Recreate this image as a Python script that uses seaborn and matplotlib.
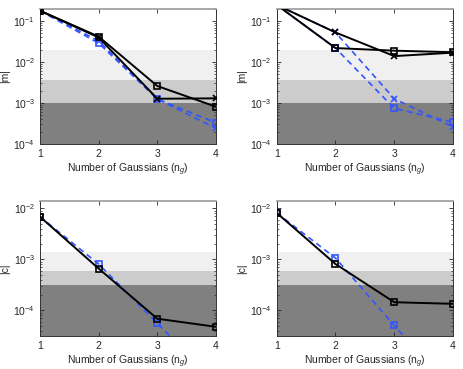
import matplotlib
matplotlib.use("Agg")
import matplotlib.pyplot as plt
import seaborn as sns

ng = [1, 2, 3, 4]

# |m| panels (top row): two solid black series and two dashed blue series
m_left_black_sq = [0.18, 0.042, 0.0026, 0.00081]
m_left_black_x = [0.18, 0.040, 0.00127, 0.0013]
m_left_blue_sq = [0.18, 0.029, 0.00125, 0.00033]
m_left_blue_x = [0.18, 0.033, 0.00125, 0.00024]

m_right_black_sq = [0.25, 0.022, 0.019, 0.0174]
m_right_black_x = [0.25, 0.053, 0.014, 0.017]
m_right_blue_sq = [0.25, 0.022, 0.00074, 0.00034]
m_right_blue_x = [0.25, 0.053, 0.00127, 0.00026]

# |c| panels (bottom row)
c_left_black = [6.8e-3, 6.6e-4, 6.9e-5, 4.8e-5]
c_left_blue = [6.8e-3, 8.1e-4, 5.6e-5, 4e-6]
c_right_black = [8.1e-3, 8.1e-4, 1.45e-4, 1.35e-4]
c_right_blue = [8.1e-3, 1.06e-3, 5.1e-5, 2.6e-6]

# shaded bands (edges, top to bottom)
m_bands = [0.02, 0.0036, 0.001, 1e-5]
c_bands = [1.4e-3, 6e-4, 3.2e-4, 1e-6]
band_colors = ['#f0f0f0', '#cccccc', '#808080']

m_ylim = (1e-4, 0.2)
c_ylim = (3.2e-5, 0.014)

BLUE = '#3355ff'

sns.set_style("ticks")
plt.rcParams['font.family'] = ['Liberation Sans', 'DejaVu Sans']
plt.rcParams['mathtext.fontset'] = 'custom'
plt.rcParams['mathtext.rm'] = 'Liberation Sans'
plt.rcParams['mathtext.it'] = 'Liberation Sans:italic'
plt.rcParams['font.size'] = 7.5


def draw_bands(ax, edges):
    for i, col in enumerate(band_colors):
        ax.axhspan(edges[i + 1], edges[i], color=col, lw=0, zorder=0)


def style_axes(ax, ylabel, ylim):
    ax.set_yscale('log')
    ax.set_xlim(1, 4)
    ax.set_ylim(*ylim)
    ax.set_xticks(ng)
    ax.set_xlabel('Number of Gaussians (n$_g$)', labelpad=2)
    ax.set_ylabel(ylabel, labelpad=2)
    ax.tick_params(which='both', direction='in', top=True, right=True, labelsize=7.5)
    ax.tick_params(which='major', length=3, width=0.6)
    ax.tick_params(which='minor', length=1.5, width=0.5)
    ax.tick_params(axis='x', which='minor', bottom=False, top=False)
    for s in ax.spines.values():
        s.set_linewidth(0.7)
        s.set_color('#333333')
    ax.spines['top'].set_color('#999999')
    ax.spines['top'].set_linewidth(1.2)


def black(ax, y, marker):
    sns.lineplot(x=ng, y=y, ax=ax, color='black', lw=1.4, marker=marker,
                 markersize=5, markerfacecolor='none', markeredgecolor='black',
                 markeredgewidth=1.2, zorder=3)


def blue(ax, y, marker):
    sns.lineplot(x=ng, y=y, ax=ax, color=BLUE, lw=1.2, marker=marker,
                 markersize=5, markerfacecolor='none', markeredgecolor=BLUE,
                 markeredgewidth=1.2, zorder=2, dashes=(3.5, 2.5))


fig = plt.figure(figsize=(4.63, 3.69), dpi=100)
ax1 = fig.add_axes([0.0864, 0.610, 0.380, 0.366])
ax2 = fig.add_axes([0.5976, 0.610, 0.381, 0.366])
ax3 = fig.add_axes([0.0864, 0.090, 0.380, 0.366])
ax4 = fig.add_axes([0.5976, 0.090, 0.381, 0.366])

draw_bands(ax1, m_bands)
blue(ax1, m_left_blue_sq, 's')
blue(ax1, m_left_blue_x, 'x')
black(ax1, m_left_black_sq, 's')
black(ax1, m_left_black_x, 'x')
style_axes(ax1, '|m|', m_ylim)

draw_bands(ax2, m_bands)
blue(ax2, m_right_blue_sq, 's')
blue(ax2, m_right_blue_x, 'x')
black(ax2, m_right_black_sq, 's')
black(ax2, m_right_black_x, 'x')
style_axes(ax2, '|m|', m_ylim)

draw_bands(ax3, c_bands)
blue(ax3, c_left_blue, 's')
black(ax3, c_left_black, 's')
style_axes(ax3, '|c|', c_ylim)

draw_bands(ax4, c_bands)
blue(ax4, c_right_blue, 's')
black(ax4, c_right_black, 's')
style_axes(ax4, '|c|', c_ylim)

fig.savefig('out.png', dpi=100)
